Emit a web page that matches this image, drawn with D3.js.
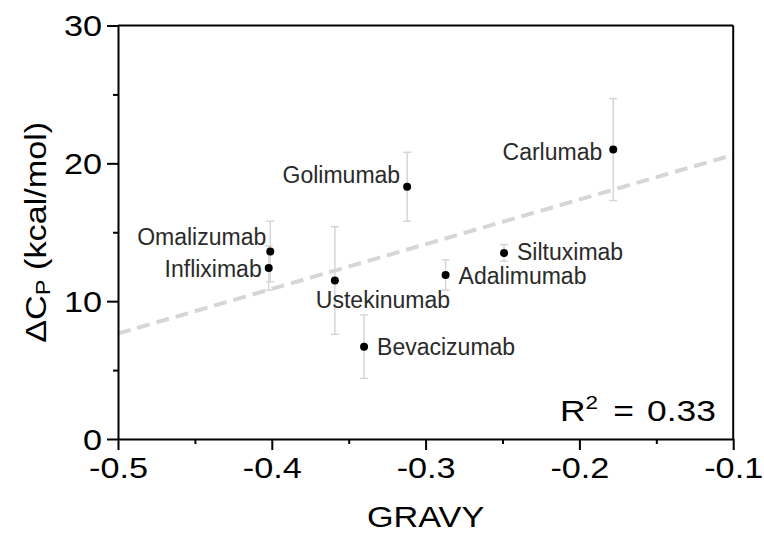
<!DOCTYPE html>
<html>
<head>
<meta charset="utf-8">
<script src="https://cdn.jsdelivr.net/npm/d3@7/dist/d3.min.js"></script>
<style>
  html, body { margin: 0; padding: 0; background: #fff; }
  svg { display: block; }
</style>
</head>
<body>
<div id="chart"></div>
<script>
// ---- data ----
const names = ["Omalizumab", "Infliximab", "Golimumab", "Ustekinumab", "Bevacizumab", "Adalimumab", "Siltuximab", "Carlumab"];
const gravy = [-0.401, -0.402, -0.312, -0.359, -0.340, -0.287, -0.249, -0.178];
const dcp   = [13.6, 12.4, 18.3, 11.5, 6.7, 11.9, 13.5, 21.0];
const dcpErr = [2.2, 1.6, 2.5, 3.9, 2.3, 1.1, 0.6, 3.7];
const xTicks = [-0.5, -0.4, -0.3, -0.2, -0.1];
const xMinorTicks = [-0.45, -0.35, -0.25, -0.15];
const yTicks = [0, 10, 20, 30];
const yMinorTicks = [5, 15, 25];
const r2Label = "0.33";

// ---- layout (not data) ----
const W = 764, H = 544;
const margin = { left: 118, top: 25.5, right: 764 - 733.2, bottom: 544 - 439 };
const labelLayout = {
  "Omalizumab":  { anchor: "end",   dx: -4,  dy: -7 },
  "Infliximab":  { anchor: "end",   dx: -7,  dy: 9 },
  "Golimumab":   { anchor: "end",   dx: -7,  dy: -4 },
  "Ustekinumab": { anchor: "start", dx: -19, dy: 28 },
  "Bevacizumab": { anchor: "start", dx: 13,  dy: 8 },
  "Adalimumab":  { anchor: "start", dx: 13,  dy: 9 },
  "Siltuximab":  { anchor: "start", dx: 13,  dy: 7.5 },
  "Carlumab":    { anchor: "end",   dx: -11, dy: 10 }
};
const SX = 1.18; // horizontal stretch of axis typography
const FONT = "'Liberation Sans', Arial, Helvetica, sans-serif";

const points = names.map((n, i) => ({ name: n, x: gravy[i], y: dcp[i], e: dcpErr[i] }));

const svg = d3.select("#chart").append("svg").attr("width", W).attr("height", H);

const x = d3.scaleLinear().domain([-0.5, -0.1]).range([margin.left, W - margin.right]);
const y = d3.scaleLinear().domain([0, 30]).range([H - margin.bottom, margin.top]);

const x0 = x.range()[0], x1 = x.range()[1], y0 = y.range()[0], y1 = y.range()[1];

// ---- regression fit (least squares) ----
const mx = d3.mean(gravy), my = d3.mean(dcp);
let sxy = 0, sxx = 0;
gravy.forEach((g, i) => { sxy += (g - mx) * (dcp[i] - my); sxx += (g - mx) * (g - mx); });
const slope = sxy / sxx, icpt = my - slope * mx;
const fitX = x.domain();

// error bars
const eb = svg.append("g").attr("stroke", "#d6d6d6").attr("stroke-width", 1.5).attr("fill", "none");
points.forEach(p => {
  const cx = x(p.x);
  eb.append("line").attr("x1", cx).attr("x2", cx).attr("y1", y(p.y - p.e)).attr("y2", y(p.y + p.e));
  eb.append("line").attr("x1", cx - 4).attr("x2", cx + 4).attr("y1", y(p.y - p.e)).attr("y2", y(p.y - p.e));
  eb.append("line").attr("x1", cx - 4).attr("x2", cx + 4).attr("y1", y(p.y + p.e)).attr("y2", y(p.y + p.e));
});

// fit line
svg.append("line")
  .attr("x1", x(fitX[0])).attr("y1", y(icpt + slope * fitX[0]))
  .attr("x2", x(fitX[1])).attr("y2", y(icpt + slope * fitX[1]))
  .attr("stroke", "#d6d6d6").attr("stroke-width", 4).attr("stroke-dasharray", "13,7");

// dots
svg.append("g").selectAll("circle").data(points).join("circle")
  .attr("cx", d => x(d.x)).attr("cy", d => y(d.y)).attr("r", 4).attr("fill", "#000");

// labels
svg.append("g").selectAll("text").data(points).join("text")
  .attr("x", d => x(d.x) + labelLayout[d.name].dx)
  .attr("y", d => y(d.y) + labelLayout[d.name].dy)
  .attr("text-anchor", d => labelLayout[d.name].anchor)
  .attr("font-family", FONT).attr("font-size", 23).attr("fill", "#2a2a2a")
  .text(d => d.name);

// ---- axes ----
const fmt = d => d.toFixed(1);
const gx = svg.append("g").attr("transform", `translate(0,${y0})`)
  .call(d3.axisBottom(x).tickValues(xTicks).tickSize(11).tickSizeOuter(0).tickFormat(fmt));
svg.append("g").attr("transform", `translate(0,${y0})`)
  .call(d3.axisBottom(x).tickValues(xMinorTicks).tickSize(5).tickSizeOuter(0).tickFormat(""))
  .call(g => g.select(".domain").remove());
const gy = svg.append("g").attr("transform", `translate(${x0},0)`)
  .call(d3.axisLeft(y).tickValues(yTicks).tickSize(11).tickSizeOuter(0).tickFormat(d3.format("d")));
svg.append("g").attr("transform", `translate(${x0},0)`)
  .call(d3.axisLeft(y).tickValues(yMinorTicks).tickSize(5).tickSizeOuter(0).tickFormat(""))
  .call(g => g.select(".domain").remove());

svg.selectAll(".domain, .tick line").attr("stroke", "#000").attr("stroke-width", 2);

gx.selectAll(".tick text")
  .attr("font-family", FONT).attr("font-size", 29).attr("fill", "#000")
  .attr("y", 39).attr("dy", null)
  .attr("transform", `scale(${SX},1)`);
gy.selectAll(".tick text")
  .attr("font-family", FONT).attr("font-size", 29).attr("fill", "#000")
  .attr("x", -16 / SX).attr("dy", "0.36em")
  .attr("transform", `scale(${SX},1)`);

// top and right frame
svg.append("line").attr("x1", x0).attr("x2", x1).attr("y1", y1).attr("y2", y1).attr("stroke", "#000").attr("stroke-width", 2);
svg.append("line").attr("x1", x1).attr("x2", x1).attr("y1", y1).attr("y2", y0).attr("stroke", "#000").attr("stroke-width", 2);

// axis titles
svg.append("text")
  .attr("transform", `translate(${(x0 + x1) / 2},527) scale(${SX},1)`)
  .attr("text-anchor", "middle")
  .attr("font-family", FONT).attr("font-size", 29).attr("fill", "#000")
  .text("GRAVY");

const yt = svg.append("text")
  .attr("transform", `translate(46,${(y0 + y1) / 2}) rotate(-90) scale(${SX},1)`)
  .attr("text-anchor", "middle")
  .attr("font-family", FONT).attr("font-size", 29).attr("fill", "#000");
yt.append("tspan").text("ΔC");
yt.append("tspan").attr("font-size", 20).attr("dy", 4).text("P");
yt.append("tspan").attr("dy", -4).text(" (kcal/mol)");

// R^2 annotation
const rt = svg.append("text")
  .attr("transform", `translate(560,421) scale(${SX},1)`)
  .attr("text-anchor", "start")
  .attr("font-family", FONT).attr("font-size", 30).attr("fill", "#000");
rt.append("tspan").text("R");
rt.append("tspan").attr("font-size", 19).attr("dy", -12).text("2");
rt.append("tspan").attr("dy", 12).attr("dx", 13).text("=");
rt.append("tspan").attr("dx", 11).text(r2Label);
</script>
</body>
</html>
